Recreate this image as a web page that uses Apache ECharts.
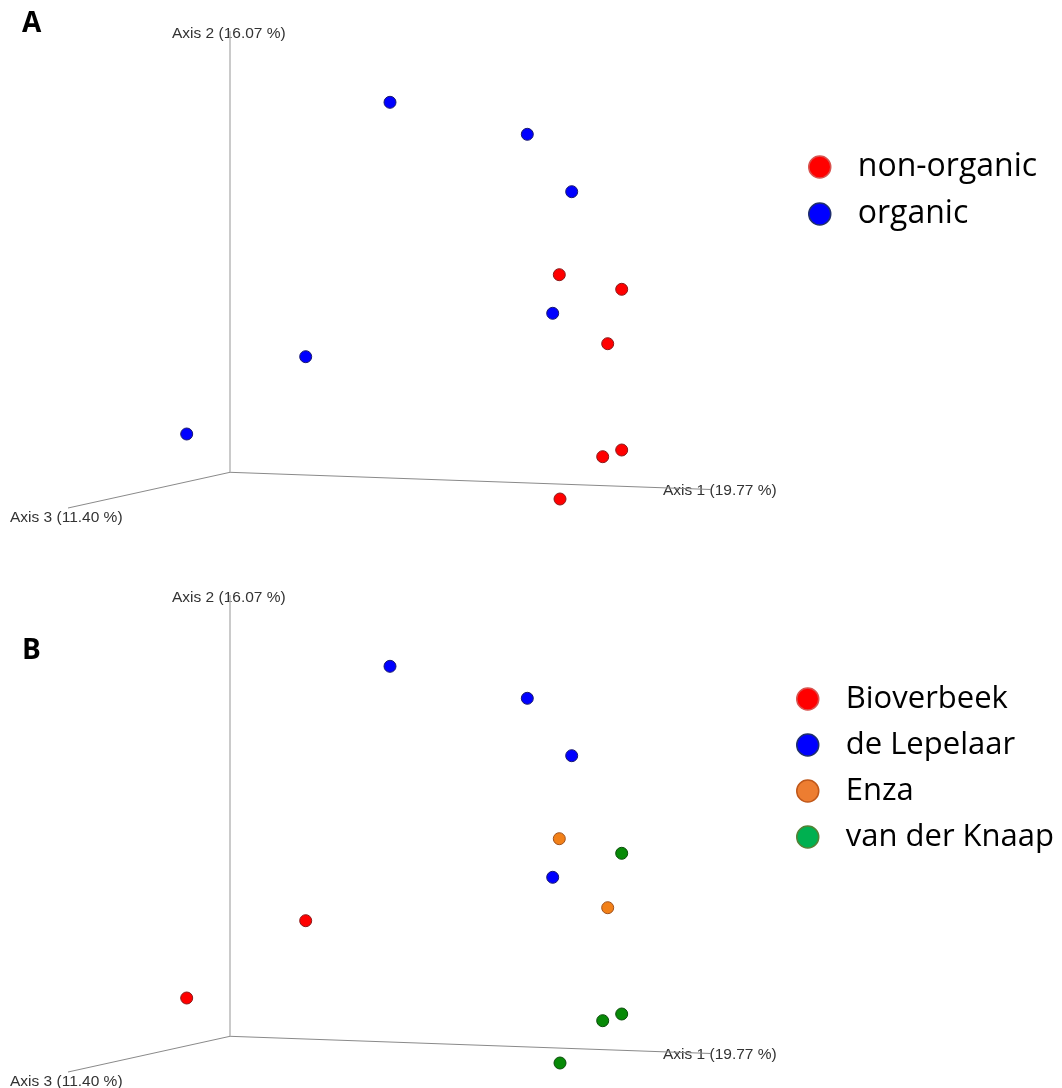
<!DOCTYPE html>
<html>
<head>
<meta charset="utf-8">
<script src="https://cdn.jsdelivr.net/npm/echarts@6/dist/echarts.min.js"></script>
<style>
html, body { margin: 0; padding: 0; background: #fff; }
#chart { width: 1062px; height: 1088px; }
</style>
</head>
<body>
<div id="chart"></div>
<script>
// sample positions (projected ordination, panel coords)
var sampleX = [390, 527.3, 571.7, 552.7, 305.7, 186.7, 559.3, 621.7, 607.7, 621.7, 602.7, 560];
var sampleY = [102.3, 134.3, 191.7, 313.3, 356.7, 434, 274.7, 289.3, 343.7, 450, 456.7, 499];

// panel A groups
var groupsA = ['non-organic', 'organic'];
var membersA = [[6, 7, 8, 9, 10, 11], [0, 1, 2, 3, 4, 5]];
var colorsA = ['#ff0000', '#0000ff'];
var bordersA = ['#8b1a1a', '#1a1a70'];
var legendColorsA = ['#ff0000', '#0000ff'];
var legendBordersA = ['#d9534f', '#1f2f6f'];

// panel B groups
var groupsB = ['Bioverbeek', 'de Lepelaar', 'Enza', 'van der Knaap'];
var membersB = [[4, 5], [0, 1, 2, 3], [6, 8], [7, 9, 10, 11]];
var colorsB = ['#ff0000', '#0000ff', '#f28018', '#078a07'];
var bordersB = ['#8b1a1a', '#1a1a70', '#a0521d', '#0b4d0b'];
var legendColorsB = ['#ff0000', '#0000ff', '#ed7d31', '#00b050'];
var legendBordersB = ['#d9534f', '#1f2f6f', '#c0581a', '#548235'];

// 3D axis lines (origin -> end), panel coords
var axisOrigin = [230, 472.3];
var axisEnds = [[711, 489.5], [230, 31], [68, 508]];
var axisColors = ['#8a8a8a', '#b8b8b8', '#8a8a8a'];
var axisWidths = [1, 1.5, 1];
var axisNames = ['Axis 1 (19.77 %)', 'Axis 2 (16.07 %)', 'Axis 3 (11.40 %)'];
var axisLabelPos = [[663, 490], [172, 33], [10, 517]];

var panelTop = [0, 564];
var panelH = [544, 524];

var chart = echarts.init(document.getElementById('chart'));

function pts(idx) {
    var out = [];
    for (var i = 0; i < idx.length; i++) {
        out.push([sampleX[idx[i]], sampleY[idx[i]]]);
    }
    return out;
}

var series = [];
var graphics = [];
for (var p = 0; p < 2; p++) {
    for (var a = 0; a < 3; a++) {
        series.push({
            type: 'line',
            xAxisIndex: p, yAxisIndex: p,
            data: [axisOrigin, axisEnds[a]],
            symbol: 'none',
            silent: true,
            z: 1,
            lineStyle: { color: axisColors[a], width: axisWidths[a] }
        });
        graphics.push({
            type: 'text',
            left: axisLabelPos[a][0],
            top: axisLabelPos[a][1] + panelTop[p] - 7,
            z: 0,
            style: { text: axisNames[a], fontFamily: 'Liberation Sans', fontSize: 15.5, fill: '#333' }
        });
    }
}

var groups = [groupsA, groupsB];
var members = [membersA, membersB];
var colors = [colorsA, colorsB];
var borders = [bordersA, bordersB];
for (var p = 0; p < 2; p++) {
    for (var g = 0; g < groups[p].length; g++) {
        series.push({
            type: 'scatter',
            name: groups[p][g],
            xAxisIndex: p, yAxisIndex: p,
            data: pts(members[p][g]),
            symbolSize: 12,
            z: 3,
            itemStyle: { color: colors[p][g], borderColor: borders[p][g], borderWidth: 1, opacity: 1 }
        });
    }
}

function legendData(names, fill, stroke) {
    var out = [];
    for (var i = 0; i < names.length; i++) {
        out.push({ name: names[i], itemStyle: { color: fill[i], borderColor: stroke[i], borderWidth: 1.5 } });
    }
    return out;
}

graphics.push({ type: 'text', left: 22, top: 10, style: { text: 'A', fontFamily: 'Open Sans', fontWeight: 'bold', fontSize: 28, fill: '#000' } });
graphics.push({ type: 'text', left: 22, top: 637, style: { text: 'B', fontFamily: 'Open Sans', fontWeight: 'bold', fontSize: 28, fill: '#000' } });

var option = {
    backgroundColor: '#fff',
    animation: false,
    grid: [
        { left: 0, top: panelTop[0], width: 1062, height: panelH[0] },
        { left: 0, top: panelTop[1], width: 1062, height: panelH[1] }
    ],
    xAxis: [
        { type: 'value', gridIndex: 0, min: 0, max: 1062, show: false },
        { type: 'value', gridIndex: 1, min: 0, max: 1062, show: false }
    ],
    yAxis: [
        { type: 'value', gridIndex: 0, min: 0, max: panelH[0], inverse: true, show: false },
        { type: 'value', gridIndex: 1, min: 0, max: panelH[1], inverse: true, show: false }
    ],
    legend: [
        {
            orient: 'vertical', left: 803, top: 144,
            itemWidth: 22, itemHeight: 22, itemGap: 11,
            icon: 'circle',
            selectedMode: false,
            data: legendData(groupsA, legendColorsA, legendBordersA),
            textStyle: { fontFamily: 'Open Sans', fontSize: 32, lineHeight: 36, color: '#000', padding: [0, 0, 0, 22] }
        },
        {
            orient: 'vertical', left: 791, top: 676,
            itemWidth: 22, itemHeight: 22, itemGap: 10,
            icon: 'circle',
            selectedMode: false,
            data: legendData(groupsB, legendColorsB, legendBordersB),
            textStyle: { fontFamily: 'Open Sans', fontSize: 31, lineHeight: 36, color: '#000', padding: [0, 0, 0, 22] }
        }
    ],
    graphic: graphics,
    series: series
};

chart.setOption(option);
</script>
</body>
</html>
